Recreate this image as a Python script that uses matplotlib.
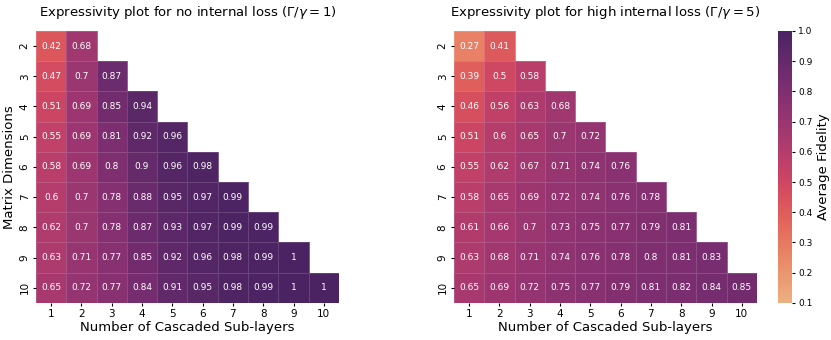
import numpy as np
import matplotlib
matplotlib.use("Agg")
import matplotlib.pyplot as plt
import seaborn as sns

dims = [2, 3, 4, 5, 6, 7, 8, 9, 10]
sublayers = [1, 2, 3, 4, 5, 6, 7, 8, 9, 10]

no_loss = [
    [0.42, 0.68],
    [0.47, 0.7, 0.87],
    [0.51, 0.69, 0.85, 0.94],
    [0.55, 0.69, 0.81, 0.92, 0.96],
    [0.58, 0.69, 0.8, 0.9, 0.96, 0.98],
    [0.6, 0.7, 0.78, 0.88, 0.95, 0.97, 0.99],
    [0.62, 0.7, 0.78, 0.87, 0.93, 0.97, 0.99, 0.99],
    [0.63, 0.71, 0.77, 0.85, 0.92, 0.96, 0.98, 0.99, 1.0],
    [0.65, 0.72, 0.77, 0.84, 0.91, 0.95, 0.98, 0.99, 1.0, 1.0],
]
high_loss = [
    [0.27, 0.41],
    [0.39, 0.5, 0.58],
    [0.46, 0.56, 0.63, 0.68],
    [0.51, 0.6, 0.65, 0.7, 0.72],
    [0.55, 0.62, 0.67, 0.71, 0.74, 0.76],
    [0.58, 0.65, 0.69, 0.72, 0.74, 0.76, 0.78],
    [0.61, 0.66, 0.7, 0.73, 0.75, 0.77, 0.79, 0.81],
    [0.63, 0.68, 0.71, 0.74, 0.76, 0.78, 0.8, 0.81, 0.83],
    [0.65, 0.69, 0.72, 0.75, 0.77, 0.79, 0.81, 0.82, 0.84, 0.85],
]

titles = [r"Expressivity plot for no internal loss $(\Gamma/\gamma = 1)$",
          r"Expressivity plot for high internal loss $(\Gamma/\gamma = 5)$"]
cbar_ticks = [0.1, 0.2, 0.3, 0.4, 0.5, 0.6, 0.7, 0.8, 0.9, 1.0]


def to_matrix(rows):
    m = np.full((len(dims), len(sublayers)), np.nan)
    for i, r in enumerate(rows):
        m[i, :len(r)] = r
    return m


fig = plt.figure(figsize=(8.31, 3.4), dpi=100)
ax1 = fig.add_axes([0.0433, 0.109, 0.3646, 0.80])
ax2 = fig.add_axes([0.5463, 0.109, 0.3646, 0.80])
cax = fig.add_axes([0.9362, 0.109, 0.017, 0.80])

for ax, data, title, cb in [(ax1, no_loss, titles[0], False), (ax2, high_loss, titles[1], True)]:
    m = to_matrix(data)
    sns.heatmap(m, ax=ax, cmap="flare", vmin=0.1, vmax=1.0, annot=True, fmt=".2g",
                annot_kws={"fontsize": 6.5, "color": "white"},
                linewidths=0.4, linecolor=(1, 1, 1, 0.15),
                xticklabels=sublayers, yticklabels=dims,
                cbar=cb, cbar_ax=cax if cb else None,
                cbar_kws={"ticks": cbar_ticks} if cb else {})
    ax.set_title(title, fontsize=9.5, pad=10.5)
    ax.set_xlabel("Number of Cascaded Sub-layers", fontsize=9.5, labelpad=1)
    ax.tick_params(axis="both", labelsize=7.5, length=2.5, pad=2)
    for t in ax.get_yticklabels():
        t.set_rotation(90)
        t.set_va("center")
    for t in ax.get_xticklabels():
        t.set_rotation(0)

ax1.set_ylabel("Matrix Dimensions", fontsize=9.5, labelpad=3)
cax.tick_params(labelsize=6.5, length=2.5, pad=2)
cax.set_ylabel("Average Fidelity", fontsize=9.5, labelpad=3)

fig.savefig("out.png", dpi=100)
